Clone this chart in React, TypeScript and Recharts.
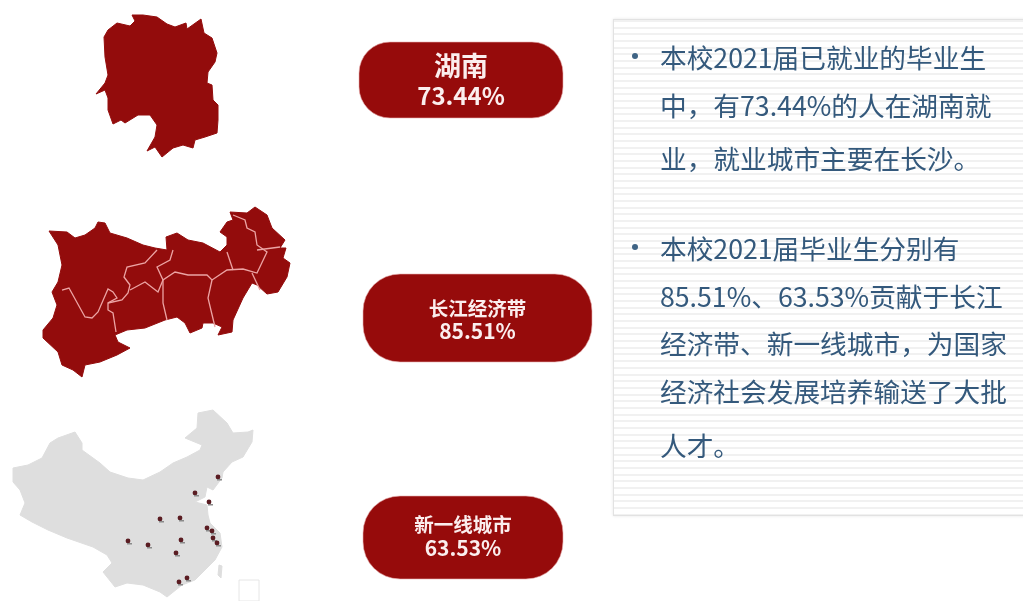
import React from 'react';
import { ScatterChart, Scatter, XAxis, YAxis } from 'recharts';

type P = { x: number; y: number };
const pts = (a: number[][]): P[] => a.map(([x, y]) => ({ x, y }));

const hunanOutline = pts([[132,15],[143,15],[157,17],[167,24],[175,27],[186,23],[187,29],[201,19],[204,33],[212,38],[217,53],[215,62],[208,72],[207,83],[212,85],[213,100],[218,105],[218,120],[217,133],[205,137],[195,140],[193,148],[183,145],[173,148],[162,157],[155,147],[147,151],[155,137],[157,125],[150,115],[138,115],[125,123],[121,120],[113,124],[108,110],[108,98],[105,90],[96,94],[105,83],[108,75],[105,57],[104,37],[108,30],[117,23],[130,26],[135,21]]);

const yangtzeOutline = pts([[49,231],[67,232],[75,238],[85,235],[95,228],[98,222],[105,223],[110,233],[127,238],[143,245],[155,248],[167,250],[166,237],[177,233],[188,240],[203,243],[220,252],[227,245],[227,237],[220,232],[227,222],[233,220],[230,212],[247,213],[255,207],[267,215],[272,228],[285,240],[280,248],[286,248],[283,258],[290,263],[287,277],[278,292],[267,294],[257,285],[252,283],[243,298],[233,320],[232,332],[218,335],[222,327],[213,323],[203,323],[202,328],[190,333],[185,323],[177,317],[165,320],[145,328],[127,330],[115,335],[118,342],[130,348],[117,355],[100,362],[85,365],[82,377],[73,370],[62,365],[58,352],[43,338],[43,330],[53,318],[57,305],[52,292],[58,282],[62,265],[58,245]]);

const yangtzeBorders = [
  pts([[62,290],[69,288],[85,317],[92,318],[98,312],[108,289],[113,292],[117,298],[108,303],[108,310],[113,313],[116,332]]),
  pts([[157,250],[145,263],[127,267],[124,277],[130,285],[128,293],[122,300],[108,303]]),
  pts([[130,290],[145,282],[158,292],[163,280],[175,272],[188,275],[207,275],[212,280],[227,270],[243,269],[257,273],[267,252],[257,245],[255,232],[247,228],[245,220],[233,215]]),
  pts([[173,250],[170,260],[157,267],[163,280],[163,303],[167,320]]),
  pts([[212,280],[208,298],[215,327]]),
  pts([[227,252],[233,270]]),
  pts([[252,273],[260,290]]),
  pts([[257,250],[280,247]]),
];

const chinaOutline = pts([[13,468],[28,465],[42,458],[50,443],[58,438],[75,432],[82,443],[82,450],[100,463],[110,472],[128,478],[143,480],[160,472],[173,463],[187,457],[200,450],[202,445],[185,438],[197,428],[198,413],[213,410],[227,423],[233,433],[248,432],[253,430],[252,442],[243,457],[232,462],[223,472],[222,478],[213,490],[207,487],[205,497],[195,502],[207,505],[208,515],[210,523],[220,533],[222,547],[215,560],[205,570],[195,580],[182,585],[167,597],[160,592],[143,585],[127,583],[115,587],[103,572],[112,563],[107,555],[93,547],[67,538],[48,530],[32,522],[20,515],[25,503],[20,490],[13,482]]);
const taiwanOutline = pts([[219,565],[222,566],[221,578],[218,575]]);
const legendBox = pts([[239,580],[259,580],[259,601],[239,601]]);

const cityPoints = pts([[218,477],[195,493],[209,502],[160,519],[180,518],[207,528],[212,531],[213,538],[217,543],[181,540],[128,541],[148,545],[176,553],[187,578],[179,582]]);

const pillNames = ['湖南', '长江经济带', '新一线城市'];
const pillValues = ['73.44%', '85.51%', '63.53%'];
const pillBoxes = [
  { x0: 359, x1: 563, y0: 42, y1: 118, r: 31, nameSize: 27, valueSize: 24, nameY: 64, valueY: 94 },
  { x0: 363, x1: 592, y0: 274, y1: 362, r: 37, nameSize: 19.5, valueSize: 21, nameY: 307, valueY: 330 },
  { x0: 363, x1: 563, y0: 496, y1: 579, r: 37, nameSize: 19.5, valueSize: 21, nameY: 523, valueY: 547 },
];
const pillData = pillBoxes.map((b, i) => ({
  x: (b.x0 + b.x1) / 2, y: (b.y0 + b.y1) / 2, name: pillNames[i], value: pillValues[i], b,
}));

const panelText = [
  '本校2021届已就业的毕业生',
  '中，有73.44%的人在湖南就',
  '业，就业城市主要在长沙。',
  '本校2021届毕业生分别有',
  '85.51%、63.53%贡献于长江',
  '经济带、新一线城市，为国家',
  '经济社会发展培养输送了大批',
  '人才。',
];
const panelLineY = [56, 104, 157, 247, 295, 342, 390, 444];
const panelData = panelText.map((t, i) => ({ x: 660, y: panelLineY[i], t, bullet: i === 0 || i === 3 }));

const FONT = '"Noto Sans CJK SC", "Noto Sans", sans-serif';
const DARK = '#930c0c';

const noDot = () => <g />;

const Pill = (props: any) => {
  const { payload, cx, cy } = props;
  const b = payload.b;
  const w = b.x1 - b.x0;
  const h = b.y1 - b.y0;
  const top = cy - (b.y0 + b.y1) / 2;
  return (
    <g>
      <rect x={cx - w / 2} y={cy - h / 2} width={w} height={h} rx={b.r} ry={b.r} fill="#960b0b" stroke="#e8b0b0" strokeWidth={0.6} />
      <text textAnchor="middle" dominantBaseline="central" fontFamily={FONT} fontWeight={700} fill="#fbeeee">
        <tspan x={cx} y={top + b.nameY} fontSize={b.nameSize}>{payload.name}</tspan>
        <tspan x={cx} y={top + b.valueY} fontSize={b.valueSize}>{payload.value}</tspan>
      </text>
    </g>
  );
};

const PanelLine = (props: any) => {
  const { payload, cx, cy } = props;
  return (
    <g>
      {payload.bullet && <circle cx={cx - 25} cy={cy} r={3} fill="#3f6485" />}
      <text x={cx} y={cy} dominantBaseline="central" fontFamily={FONT} fontSize={26.7} fill="#34597c">{payload.t}</text>
    </g>
  );
};

const CityDot = (props: any) => (
  <g>
    <circle cx={props.cx} cy={props.cy} r={2.4} fill="#5a1c22" />
    <rect x={props.cx - 1} y={props.cy + 2} width={5} height={1.5} fill="#8a8a8a" />
  </g>
);

const stripes =
  'repeating-linear-gradient(to bottom, #f1f1f1 0px, #f1f1f1 2px, #ffffff 2px, #ffffff 6.67px)';

export default function App() {
  return (
    <div style={{ position: 'absolute', left: 0, top: 0, width: 1023, height: 601, overflow: 'hidden', background: '#fff' }}>
      <div style={{ position: 'absolute', left: 613, top: 19, width: 420, height: 495, border: '1px solid #e2e2e2', boxShadow: '0 0 3px #e6e6e6', backgroundImage: stripes }} />
      <div style={{ position: 'absolute', left: 0, top: 0, filter: 'blur(0.6px)' }}>
        <ScatterChart width={1023} height={601} margin={{ top: 0, right: 0, bottom: 0, left: 0 }}>
          <XAxis type="number" dataKey="x" domain={[0, 1023]} hide />
          <YAxis type="number" dataKey="y" domain={[0, 601]} reversed hide />
          <Scatter data={chinaOutline} isAnimationActive={false} shape={noDot} line={{ fill: '#dedede', stroke: '#dedede', strokeWidth: 1 }} lineJointType="linearClosed" />
          <Scatter data={taiwanOutline} isAnimationActive={false} shape={noDot} line={{ fill: '#dedede', stroke: '#dedede', strokeWidth: 1 }} lineJointType="linearClosed" />
          <Scatter data={legendBox} isAnimationActive={false} shape={noDot} line={{ fill: 'none', stroke: '#e6e6e6', strokeWidth: 1 }} lineJointType="linearClosed" />
          <Scatter data={cityPoints} isAnimationActive={false} shape={<CityDot />} />
          <Scatter data={hunanOutline} isAnimationActive={false} shape={noDot} line={{ fill: DARK, stroke: DARK, strokeWidth: 1 }} lineJointType="linearClosed" />
          <Scatter data={yangtzeOutline} isAnimationActive={false} shape={noDot} line={{ fill: DARK, stroke: DARK, strokeWidth: 1 }} lineJointType="linearClosed" />
          {yangtzeBorders.map((b, i) => (
            <Scatter key={i} data={b} isAnimationActive={false} shape={noDot} line={{ fill: 'none', stroke: '#eca4a4', strokeWidth: 1.3 }} lineJointType="linear" />
          ))}
          <Scatter data={pillData} isAnimationActive={false} shape={<Pill />} />
          <Scatter data={panelData} isAnimationActive={false} shape={<PanelLine />} />
        </ScatterChart>
      </div>
    </div>
  );
}
